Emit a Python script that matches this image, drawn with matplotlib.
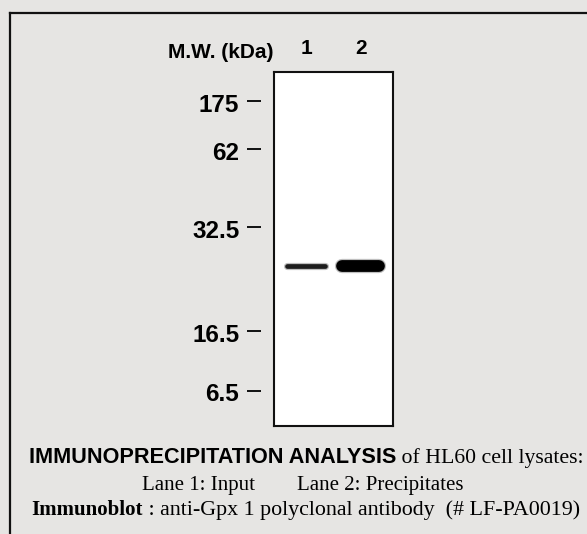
import matplotlib
matplotlib.use("Agg")
import matplotlib.pyplot as plt
import matplotlib.transforms as mtrans
from matplotlib.lines import Line2D

# marker ladder (kDa) and where each one runs on the gel (fraction of gel length)
marker_labels = ["175", "62", "32.5", "16.5", "6.5"]
marker_pos = [0.082, 0.218, 0.438, 0.732, 0.901]

# detected bands: lane, migration, half width (lane units), thickness (pt)
lanes = [1, 2]
lane_labels = ["1", "2"]
band_lane = [1.0, 1.98]
band_pos = [0.548, 0.548]
band_halfwidth = [0.34, 0.33]
band_thick = [3.4, 8.5]
band_alpha = [0.85, 1.0]

caption_bold = "IMMUNOPRECIPITATION ANALYSIS"
caption_rest = " of HL60 cell lysates:"
caption_lanes = "Lane 1: Input        Lane 2: Precipitates"
blot_bold = "Immunoblot"
blot_rest = " : anti-Gpx 1 polyclonal antibody  (# LF-PA0019)"

bg = "#e6e5e3"
sans = "Liberation Sans"
serif = "Liberation Serif"

fig = plt.figure(figsize=(5.87, 5.34), dpi=100, facecolor=bg)

# outer frame (only the left and top edges are inside the picture)
fx, fy = 9.5 / 587, 1 - 13 / 534
fig.add_artist(Line2D([fx, fx], [-0.01, fy], transform=fig.transFigure, color="#111111", lw=1.6))
fig.add_artist(Line2D([fx, 1.01], [fy, fy], transform=fig.transFigure, color="#111111", lw=1.6))

ax = fig.add_axes([274 / 587, 1 - 426 / 534, 119 / 587, 354 / 534])
ax.set_facecolor("white")
ax.set_xlim(0.423, 2.567)
ax.set_ylim(1, 0)
for s in ax.spines.values():
    s.set_linewidth(1.5)
    s.set_color("#111111")

# bands
for x, y, hw, t, a in zip(band_lane, band_pos, band_halfwidth, band_thick, band_alpha):
    ax.plot([x - hw, x + hw], [y, y], color="black", lw=t + 1.8, alpha=0.25,
            solid_capstyle="round")
    ax.plot([x - hw, x + hw], [y, y], color="black", lw=t, alpha=a,
            solid_capstyle="round")

# marker ticks: labels on the left, dashes standing off the gel
ax.set_yticks(marker_pos)
ax.set_yticklabels(marker_labels, fontfamily=sans, fontweight="bold", fontsize=17.5)
ax.tick_params(axis="y", length=0, pad=25)
off = mtrans.ScaledTranslation(0, -1.5 / 100, fig.dpi_scale_trans)
for lab in ax.get_yticklabels():
    lab.set_transform(lab.get_transform() + off)
ax.hlines(marker_pos, -0.227, -0.109, transform=ax.get_yaxis_transform(),
          color="black", lw=1.3, clip_on=False)

# lane numbers on top
ax.set_xticks(lanes)
ax.set_xticklabels(lane_labels, fontfamily=sans, fontweight="bold", fontsize=15)
ax.tick_params(axis="x", top=True, labeltop=True, bottom=False, labelbottom=False,
               length=0, pad=10)

ax.text(-0.005, 1.056, "M.W. (kDa)", transform=ax.transAxes, ha="right", va="center",
        fontfamily=sans, fontweight="bold", fontsize=15)

# caption lines
renderer = fig.canvas.get_renderer()
cx = 306 / 587


def two_part(y, a, a_kw, b, b_kw):
    t1 = fig.text(0, y, a, va="baseline", ha="left", **a_kw)
    t2 = fig.text(0, y, b, va="baseline", ha="left", **b_kw)
    w1 = t1.get_window_extent(renderer).width / fig.bbox.width
    w2 = t2.get_window_extent(renderer).width / fig.bbox.width
    x0 = cx - (w1 + w2) / 2
    t1.set_x(x0)
    t2.set_x(x0 + w1)


two_part(1 - 463 / 534, caption_bold, dict(fontfamily=sans, fontweight="bold", fontsize=15.6),
         caption_rest, dict(fontfamily=serif, fontsize=15.7))
fig.text(302.5 / 587, 1 - 490 / 534, caption_lanes, ha="center", va="baseline",
         fontfamily=serif, fontsize=15)
two_part(1 - 515 / 534, blot_bold, dict(fontfamily=serif, fontweight="bold", fontsize=15),
         blot_rest, dict(fontfamily=serif, fontsize=15.8))

fig.savefig("out.png", dpi=100, facecolor=bg)
